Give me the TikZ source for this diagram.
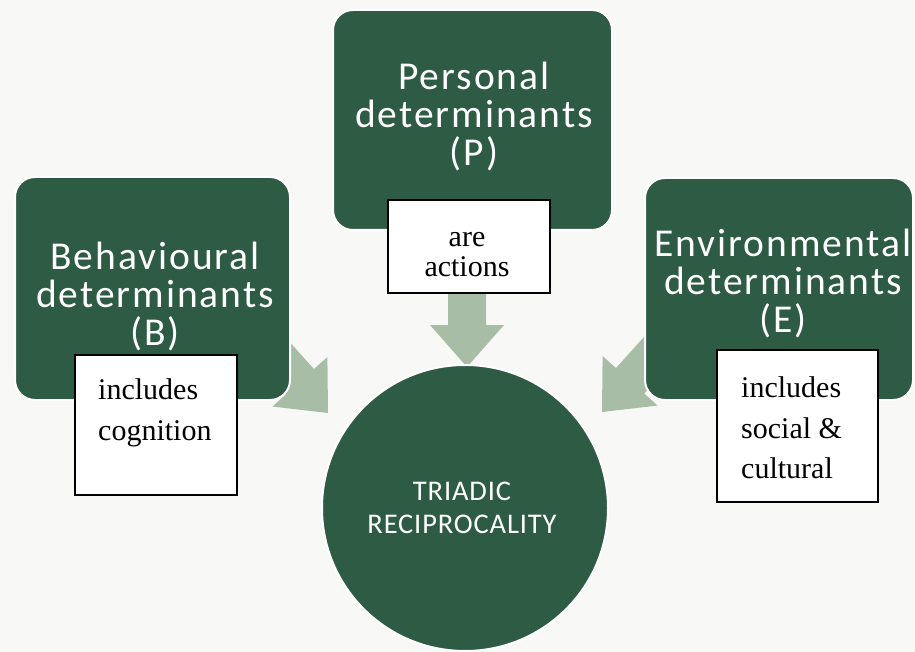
\documentclass[tikz,border=0pt]{standalone}
\usepackage{fontspec}
\setmainfont{Liberation Serif}
\newfontfamily\calib[LetterSpace=5]{Carlito}
\newfontfamily\calibc[LetterSpace=3]{Carlito}
\usetikzlibrary{calc}
\definecolor{bg}{HTML}{F8F8F6}
\definecolor{dgreen}{HTML}{2D5B43}
\definecolor{lgreen}{HTML}{A8BDA5}
% #1 tip coordinate, #2 direction angle (pixel space), #3 shaft length
\newcommand{\blkarrow}[3]{%
  \fill[lgreen] (#1)
    -- ($(#1)+(#2+180:42)+(#2-90:37)$)
    -- ($(#1)+(#2+180:42)+(#2-90:19)$)
    -- ($(#1)+(#2+180:{42+#3})+(#2-90:19)$)
    -- ($(#1)+(#2+180:{42+#3})+(#2+90:19)$)
    -- ($(#1)+(#2+180:42)+(#2+90:19)$)
    -- ($(#1)+(#2+180:42)+(#2+90:37)$) -- cycle;}
\begin{document}
\begin{tikzpicture}[x=1pt,y=-1pt,
  gbox/.style={draw=white, line width=2pt, fill=dgreen, rounded corners=20pt, inner sep=0pt},
  gtext/.style={text=white, font=\calib\fontsize{39.5pt}{38pt}\selectfont, align=center, inner sep=0pt},
  ctext/.style={text=white, font=\calibc\fontsize{28.5pt}{33pt}\selectfont, align=center, inner sep=0pt},
  wbox/.style={draw=black, line width=1.2pt, fill=white, inner sep=0pt},
  wtext/.style={font=\fontsize{30pt}{40.5pt}\selectfont, inner sep=0pt}]
\fill[bg] (0,0) rectangle (915,652);
\useasboundingbox (0,0) rectangle (915,652);
% arrow tips
\coordinate (tipP) at (467,367);
\coordinate (tipB) at (328,413);
\coordinate (tipE) at (602,412);
\blkarrow{tipP}{90}{40}
\blkarrow{tipB}{48}{42}
\blkarrow{tipE}{132}{50}
% green boxes
\node[gbox, minimum width=275pt, minimum height=223pt] (B) at (152.5,288.5) {};
\node[gbox, minimum width=279pt, minimum height=220pt] (P) at (472.5,120) {};
\node[gbox, minimum width=268pt, minimum height=222pt] (E) at (779,289) {};
% circle
\node[circle, draw=white, line width=2pt, fill=dgreen, minimum size=286pt, inner sep=0pt] (C) at (465,508) {};
% green texts
\node[gtext] (Bt) at (155,297) {Behavioural\\determinants\\(B)};
\node[gtext] (Pt) at (474,117) {Personal\\determinants\\(P)};
\node[gtext] (Et) at (783,284) {Environmental\\determinants\\(E)};
\node[ctext] (Ct) at (462,508) {TRIADIC\\RECIPROCALITY};
% white boxes
\node[wbox, minimum width=162pt, minimum height=140pt] (Bw) at (156,425) {};
\node[wbox, minimum width=162pt, minimum height=93pt] (Pw) at (469,246.5) {};
\node[wbox, minimum width=161pt, minimum height=152pt] (Ew) at (797.5,426) {};
\node[wtext, align=left, anchor=west] (Bwt) at (98,413) {includes\\cognition};
\node[wtext, align=center, font=\fontsize{30pt}{30pt}\selectfont] (Pwt) at (467,255) {are\\actions};
\node[wtext, align=left, anchor=west] (Ewt) at (741,428) {includes\\social \&\\cultural};
\end{tikzpicture}
\end{document}
